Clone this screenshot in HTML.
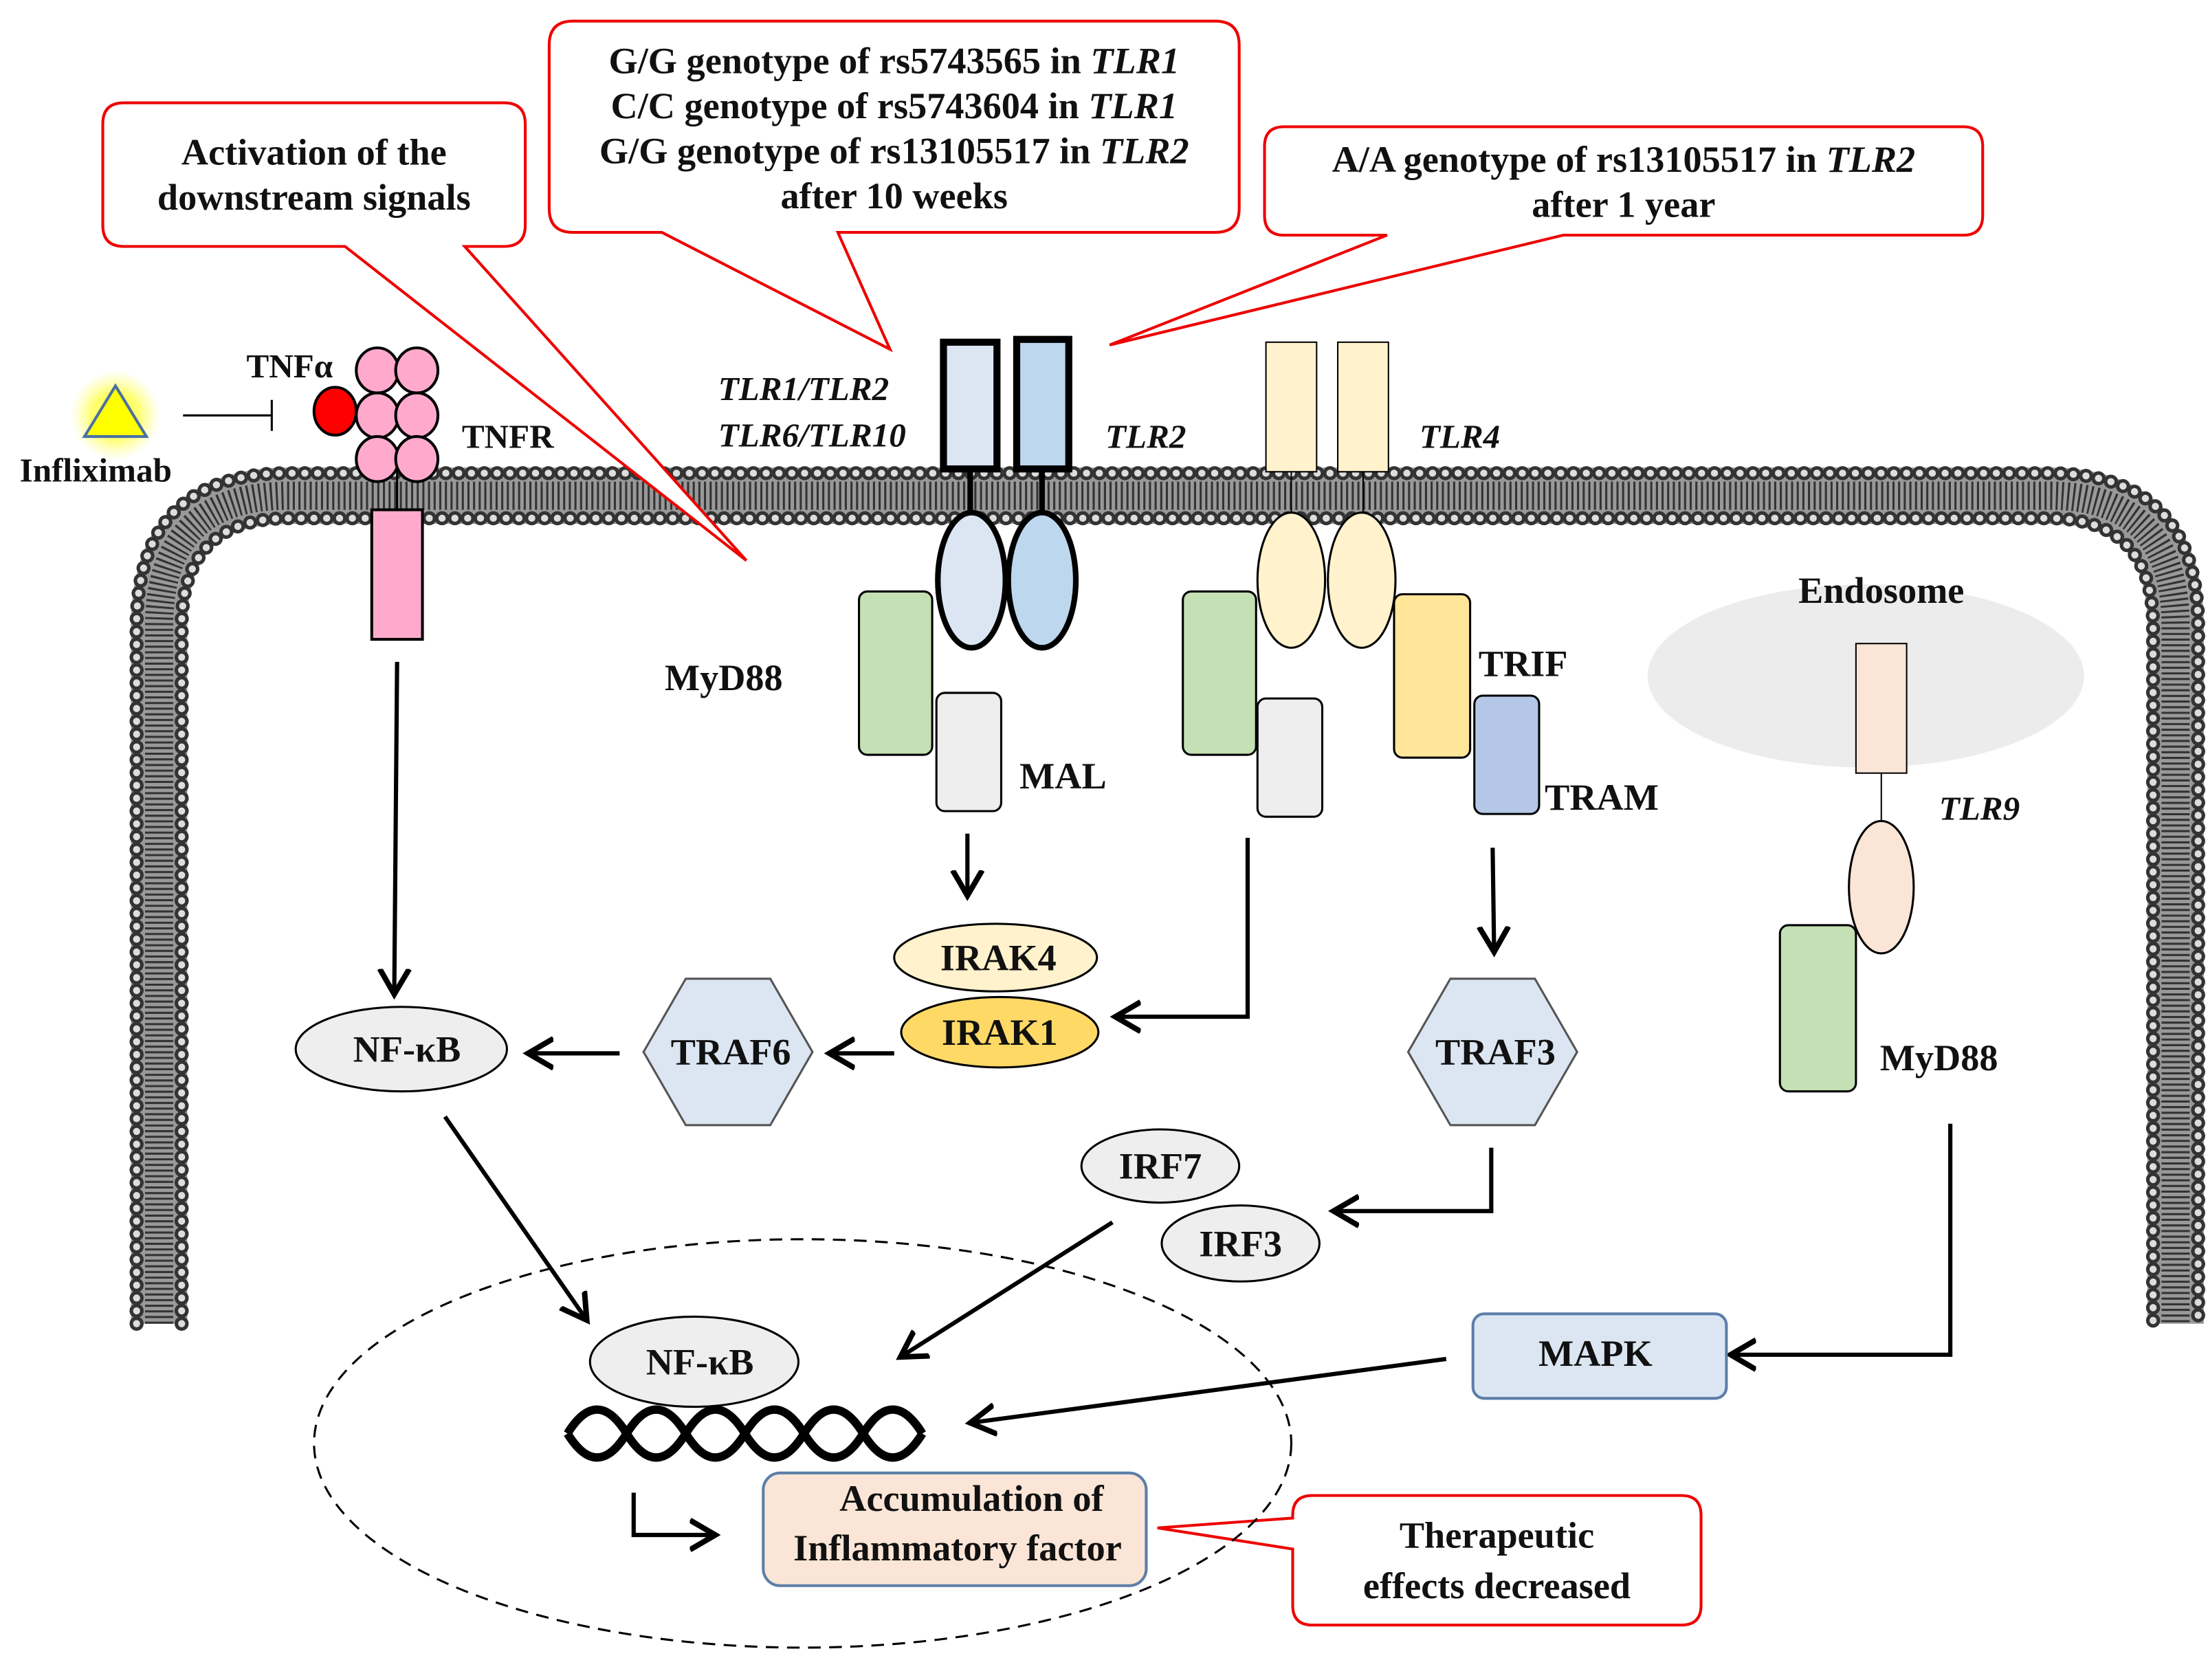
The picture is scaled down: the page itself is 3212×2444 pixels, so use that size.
<!DOCTYPE html>
<html><head><meta charset="utf-8"><style>html,body{margin:0;padding:0;background:#fff}svg{display:block}
text{font-family:"Liberation Serif","Times New Roman",serif;font-weight:bold;font-size:26.5px;fill:#111}
.c{text-anchor:middle}.i{font-style:italic}</style></head><body>
<svg width="3212" height="2444" viewBox="0 0 1568 1193" preserveAspectRatio="none" xmlns="http://www.w3.org/2000/svg">
<defs>
<marker id="a" markerWidth="8" markerHeight="8" refX="5" refY="4" orient="auto" markerUnits="strokeWidth"><path d="M0,0.5 L6,4 L0,7.5" fill="none" stroke="#000" stroke-width="1.3"/></marker>
<pattern id="st" width="7" height="10" patternUnits="userSpaceOnUse"><rect width="7" height="10" fill="#fff"/><rect x="2" width="2.5" height="10" fill="#000"/></pattern>
<radialGradient id="gl"><stop offset="0.5" stop-color="#ffff66"/><stop offset="1" stop-color="#ffff99" stop-opacity="0"/></radialGradient>
</defs>
<ellipse cx="1325" cy="480" rx="155" ry="65" fill="#ececec"/>
<path d="M113,940 V445 Q113,352 205,352 H1455 Q1545,352 1545,445 V940" fill="none" stroke="#999" stroke-width="40"/>
<path d="M113,940 V445 Q113,352 205,352 H1455 Q1545,352 1545,445 V940" fill="none" stroke="#333" stroke-width="20" stroke-dasharray="1.5 2.5"/>
<path d="M97,940 V445 Q97,336 205,336 H1455 Q1561,336 1561,445 V940" fill="none" stroke="#333" stroke-width="10" stroke-dasharray="0.1 9" stroke-linecap="round"/>
<path d="M97,940 V445 Q97,336 205,336 H1455 Q1561,336 1561,445 V940" fill="none" stroke="#ddd" stroke-width="5" stroke-dasharray="0.1 9" stroke-linecap="round"/>
<path d="M129,940 V445 Q129,368 205,368 H1455 Q1529,368 1529,445 V940" fill="none" stroke="#333" stroke-width="10" stroke-dasharray="0.1 9" stroke-linecap="round"/>
<path d="M129,940 V445 Q129,368 205,368 H1455 Q1529,368 1529,445 V940" fill="none" stroke="#ddd" stroke-width="5" stroke-dasharray="0.1 9" stroke-linecap="round"/>
<g fill="#fff" stroke="#e00" stroke-width="2">
<path d="M88,73 H358 Q373,73 373,88 V160 Q373,175 358,175 H330 L530,398 L245,175 H88 Q73,175 73,160 V88 Q73,73 88,73 Z"/>
<path d="M407,15 H863 Q880,15 880,32 V148 Q880,165 863,165 H595 L632,248 L470,165 H407 Q390,165 390,148 V32 Q390,15 407,15 Z"/>
<path d="M912,90 H1394 Q1408,90 1408,104 V153 Q1408,167 1394,167 H1110 L788,245 L985,167 H912 Q898,167 898,153 V104 Q898,90 912,90 Z"/>
<path d="M932,1062 H1194 Q1208,1062 1208,1076 V1140 Q1208,1154 1194,1154 H932 Q918,1154 918,1140 V1100 L822,1085 L918,1078 V1076 Q918,1062 932,1062 Z"/>
</g>
<text class="c" x="223" y="117">Activation of the</text>
<text class="c" x="223" y="149">downstream signals</text>
<text class="c" x="635" y="52">G/G genotype of rs5743565 in <tspan class="i">TLR1</tspan></text>
<text class="c" x="635" y="84">C/C genotype of rs5743604 in <tspan class="i">TLR1</tspan></text>
<text class="c" x="635" y="116">G/G genotype of rs13105517 in <tspan class="i">TLR2</tspan></text>
<text class="c" x="635" y="148">after 10 weeks</text>
<text class="c" x="1153" y="122">A/A genotype of rs13105517 in <tspan class="i">TLR2</tspan></text>
<text class="c" x="1153" y="154">after 1 year</text>
<text class="c" x="1063" y="1099">Therapeutic</text>
<text class="c" x="1063" y="1135">effects decreased</text>
<circle cx="82" cy="295" r="32" fill="url(#gl)"/>
<path d="M82,274 L104,310 L60,310 Z" fill="#ffff00" stroke="#4a6fa5" stroke-width="2"/>
<text x="14" y="342" style="font-size:24px">Infliximab</text>
<text x="175" y="268" style="font-size:24px">TNFα</text>
<path d="M130,295 H193 M193,284 V306" stroke="#000" stroke-width="1.5" fill="none"/>
<line x1="282" y1="330" x2="282" y2="362" stroke="#000" stroke-width="1.5"/>
<ellipse cx="238" cy="292" rx="15" ry="17" fill="#f00" stroke="#000" stroke-width="2"/>
<g fill="#ffaacc" stroke="#000" stroke-width="2">
<ellipse cx="268" cy="263" rx="15" ry="16"/><ellipse cx="296" cy="263" rx="15" ry="16"/>
<ellipse cx="268" cy="295" rx="15" ry="16"/><ellipse cx="296" cy="295" rx="15" ry="16"/>
<ellipse cx="268" cy="326" rx="15" ry="16"/><ellipse cx="296" cy="326" rx="15" ry="16"/>
<rect x="264" y="362" width="36" height="92"/></g>
<text x="328" y="318" style="font-size:24px">TNFR</text>
<g stroke="#000" stroke-width="3" fill="none" marker-end="url(#a)">
<line x1="282" y1="470" x2="280" y2="703"/>
<line x1="440" y1="748" x2="378" y2="748"/>
<line x1="635" y1="748" x2="592" y2="748"/>
<line x1="687" y1="592" x2="687" y2="633"/>
<path d="M886,595 V722 H795"/>
<line x1="1060" y1="602" x2="1061" y2="673"/>
<path d="M1059,815 V860 H950"/>
<line x1="790" y1="868" x2="642" y2="962"/>
<path d="M1385,798 V962 H1232"/>
<line x1="1027" y1="965" x2="692" y2="1010"/>
<line x1="316" y1="793" x2="415" y2="935"/>
<path d="M450,1060 V1090 H505"/>
</g>
<g stroke="#000" stroke-width="4"><line x1="689" y1="333" x2="689" y2="366"/><line x1="740" y1="333" x2="740" y2="366"/></g>
<rect x="670" y="243" width="38" height="90" fill="#dce6f2" stroke="#000" stroke-width="5"/>
<rect x="722" y="241" width="37" height="92" fill="#bdd7ee" stroke="#000" stroke-width="5"/>
<ellipse cx="690" cy="412" rx="24" ry="48" fill="#dce6f2" stroke="#000" stroke-width="4"/>
<ellipse cx="740" cy="412" rx="24" ry="48" fill="#bdd7ee" stroke="#000" stroke-width="4"/>
<rect x="610" y="420" width="52" height="116" rx="6" fill="#c5e0b4" stroke="#000" stroke-width="1.5"/>
<rect x="665" y="492" width="46" height="84" rx="6" fill="#eee" stroke="#000" stroke-width="1.5"/>
<text class="i" x="510" y="284" style="font-size:24px">TLR1/TLR2</text>
<text class="i" x="510" y="317" style="font-size:24px">TLR6/TLR10</text>
<text class="i" x="785" y="318" style="font-size:24px">TLR2</text>
<text x="472" y="490">MyD88</text>
<text x="724" y="560">MAL</text>
<g stroke="#000" stroke-width="1"><line x1="917" y1="335" x2="917" y2="366"/><line x1="968" y1="335" x2="968" y2="366"/></g>
<rect x="899" y="243" width="36" height="92" fill="#fff2cc" stroke="#000" stroke-width="1"/>
<rect x="950" y="243" width="36" height="92" fill="#fff2cc" stroke="#000" stroke-width="1"/>
<ellipse cx="917" cy="412" rx="24" ry="48" fill="#fff2cc" stroke="#000" stroke-width="1.5"/>
<ellipse cx="967" cy="412" rx="24" ry="48" fill="#fff2cc" stroke="#000" stroke-width="1.5"/>
<rect x="840" y="420" width="52" height="116" rx="6" fill="#c5e0b4" stroke="#000" stroke-width="1.5"/>
<rect x="893" y="496" width="46" height="84" rx="6" fill="#eee" stroke="#000" stroke-width="1.5"/>
<rect x="990" y="422" width="54" height="116" rx="6" fill="#ffe699" stroke="#000" stroke-width="1.5"/>
<rect x="1047" y="494" width="46" height="84" rx="6" fill="#b4c7e7" stroke="#000" stroke-width="1.5"/>
<text class="i" x="1008" y="318" style="font-size:24px">TLR4</text>
<text x="1050" y="480">TRIF</text>
<text x="1097" y="575">TRAM</text>
<text class="c" x="1336" y="428">Endosome</text>
<line x1="1336" y1="549" x2="1336" y2="584" stroke="#000" stroke-width="1"/>
<rect x="1318" y="457" width="36" height="92" fill="#fbe5d6" stroke="#000" stroke-width="1"/>
<ellipse cx="1336" cy="630" rx="23" ry="47" fill="#fbe5d6" stroke="#000" stroke-width="1.5"/>
<rect x="1264" y="657" width="54" height="118" rx="6" fill="#c5e0b4" stroke="#000" stroke-width="1.5"/>
<text class="i" x="1377" y="582" style="font-size:24px">TLR9</text>
<text x="1335" y="760">MyD88</text>
<ellipse cx="285" cy="745" rx="75" ry="30" fill="#eee" stroke="#000" stroke-width="1.5"/>
<text class="c" x="289" y="754">NF-κB</text>
<path d="M457,747 L487,695 L547,695 L577,747 L547,799 L487,799 Z" fill="#dce6f2" stroke="#555" stroke-width="1.5"/>
<text class="c" x="519" y="756">TRAF6</text>
<path d="M1000,747 L1030,695 L1090,695 L1120,747 L1090,799 L1030,799 Z" fill="#dce6f2" stroke="#555" stroke-width="1.5"/>
<text class="c" x="1062" y="756">TRAF3</text>
<ellipse cx="707" cy="680" rx="72" ry="24" fill="#fff2cc" stroke="#000" stroke-width="1.5"/>
<text class="c" x="709" y="689">IRAK4</text>
<ellipse cx="710" cy="733" rx="70" ry="25" fill="#ffd966" stroke="#000" stroke-width="1.5"/>
<text class="c" x="710" y="742">IRAK1</text>
<ellipse cx="824" cy="828" rx="56" ry="26" fill="#eee" stroke="#000" stroke-width="1.5"/>
<text class="c" x="824" y="837">IRF7</text>
<ellipse cx="881" cy="883" rx="56" ry="27" fill="#eee" stroke="#000" stroke-width="1.5"/>
<text class="c" x="881" y="892">IRF3</text>
<rect x="1046" y="933" width="180" height="60" rx="8" fill="#dce6f2" stroke="#5b7fa8" stroke-width="2"/>
<text class="c" x="1133" y="970">MAPK</text>
<ellipse cx="570" cy="1025" rx="347" ry="145" fill="none" stroke="#000" stroke-width="1.5" stroke-dasharray="9 6"/>
<ellipse cx="493" cy="967" rx="74" ry="32" fill="#eee" stroke="#000" stroke-width="1.5"/>
<text class="c" x="497" y="976">NF-κB</text>
<path d="M403,1018 Q424,984 445,1018 T487,1018 T529,1018 T571,1018 T613,1018 T655,1018 Q634,1052 613,1018 T571,1018 T529,1018 T487,1018 T445,1018 T403,1018 Z" fill="url(#st)" stroke="none"/>
<path d="M403,1018 Q424,984 445,1018 T487,1018 T529,1018 T571,1018 T613,1018 T655,1018" fill="none" stroke="#000" stroke-width="6"/>
<path d="M403,1018 Q424,1052 445,1018 T487,1018 T529,1018 T571,1018 T613,1018 T655,1018" fill="none" stroke="#000" stroke-width="6"/>
<rect x="542" y="1046" width="272" height="80" rx="12" fill="#fbe5d6" stroke="#5b7fa8" stroke-width="2"/>
<text class="c" x="690" y="1073">Accumulation of</text>
<text class="c" x="680" y="1108">Inflammatory factor</text>
</svg>
</body></html>
